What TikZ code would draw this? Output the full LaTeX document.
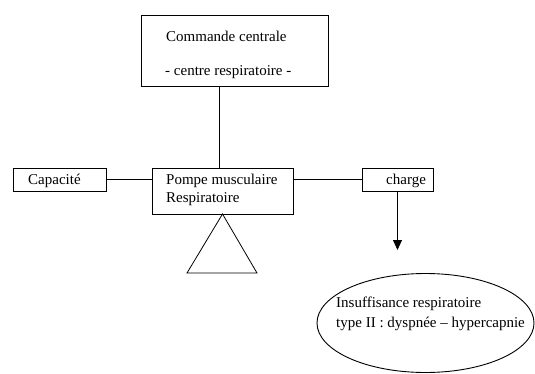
\documentclass[tikz,border=0pt]{standalone}
\usepackage{fontspec}
\setmainfont{Liberation Serif}
\usetikzlibrary{arrows.meta,shapes.geometric}
\tikzset{
  boxnode/.style={draw=black,line width=0.9pt,rectangle,inner sep=0pt},
  txt/.style={anchor=base west,inner sep=0pt,font=\fontsize{15}{18}\selectfont},
  conn/.style={draw=black,line width=0.8pt},
}
\begin{document}
\begin{tikzpicture}[x=1pt,y=-1pt]
\useasboundingbox (0,0) rectangle (535,374);
% boxes
\node[boxnode,minimum width=187pt,minimum height=71pt] (cmd) at (234.5,50.5) {};
\node[boxnode,minimum width=141pt,minimum height=46pt] (pompe) at (222.5,191) {};
\node[boxnode,minimum width=93pt,minimum height=23pt] (cap) at (59.5,179.5) {};
\node[boxnode,minimum width=71pt,minimum height=23pt] (charge) at (397.5,179.5) {};
\node[draw=black,line width=0.9pt,ellipse,inner sep=0pt,minimum width=217pt,minimum height=99pt] (insuf) at (425.5,323) {};
% texts
\node[txt] (t1) at (166,42) {Commande centrale};
\node[txt] (t2) at (165,76) {- centre respiratoire -};
\node[txt] (t3) at (166,185) {Pompe musculaire};
\node[txt] (t4) at (166,203) {Respiratoire};
\node[txt] (t5) at (28,185) {Capacité};
\node[txt] (t6) at (386,185) {charge};
\node[txt] (t7) at (336,307) {Insuffisance respiratoire};
\node[txt] (t8) at (336,327) {type II : dyspnée -- hypercapnie};
% connectors
\draw[conn] (cmd.south -| 219,0) -- (pompe.north -| 219,0);
\draw[conn] (cap.east) -- (cap.east -| pompe.west);
\draw[conn] (charge.west -| pompe.east) -- (charge.west);
\coordinate (arrend) at (397.5,250);
\draw[conn,-{Triangle[width=9pt,length=10pt]}] (charge.south) -- (arrend);
% triangle (balance)
\coordinate (apex) at (222.5,214);
\draw[conn,line join=miter] (apex) -- (187,273) -- (257,273) -- cycle;
\end{tikzpicture}
\end{document}
